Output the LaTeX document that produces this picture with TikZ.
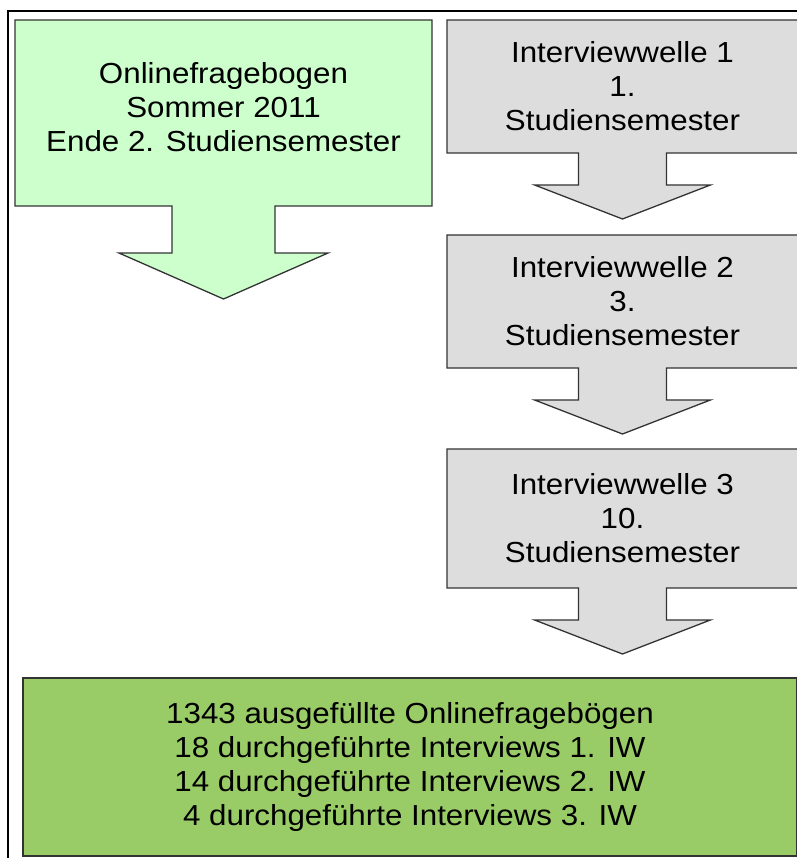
\documentclass[tikz,border=0pt]{standalone}
\usepackage{fontspec}
\setmainfont{Liberation Sans}[FakeStretch=1.08]
\usetikzlibrary{shapes.arrows}
\definecolor{hellgruen}{RGB}{204,255,204}
\definecolor{grau}{RGB}{221,221,221}
\definecolor{gruen}{RGB}{153,204,102}
\definecolor{rand}{RGB}{51,51,51}
\tikzset{
  kasten/.style={draw=rand, line width=1.3pt, align=center, inner sep=0pt, outer sep=0pt, font=\fontsize{29}{34}\selectfont},
  welle/.style={kasten, arrow box, fill=grau, minimum width=351pt, arrow box arrows={south:66pt}, arrow box shaft width=88pt, arrow box head extend=44pt, arrow box tip angle=137.7},
}
\begin{document}
\begin{tikzpicture}[x=1pt,y=-1pt] % 1 unité = 1 pixel de l'image
\useasboundingbox (0,0) rectangle (796,858);
\draw[line width=1.2pt] (8,870) -- (8,11) -- (810,11);

\node[kasten, arrow box, fill=hellgruen, text depth=12pt, minimum width=417pt, minimum height=186pt, arrow box arrows={south:93pt}, arrow box shaft width=103pt, arrow box head extend=53pt, arrow box tip angle=132.5] (onl) at (223.5,113) {Onlinefragebogen\\Sommer 2011\\Ende 2. Studiensemester};
\node[welle, minimum height=133pt] (w1) at (622.5,86.5) {Interviewwelle 1\\1.\\Studiensemester};
\node[welle, minimum height=133pt] (w2) at (622.5,301.5) {Interviewwelle 2\\3.\\Studiensemester};
\node[welle, minimum height=139pt] (w3) at (622.5,518.5) {Interviewwelle 3\\10.\\Studiensemester};
\node[kasten, rectangle, fill=gruen, minimum width=774pt, minimum height=178pt] (erg) at (410,767) {1343 ausgefüllte Onlinefragebögen\\18 durchgeführte Interviews 1. IW\\14 durchgeführte Interviews 2. IW\\4 durchgeführte Interviews 3. IW};
\end{tikzpicture}
\end{document}
